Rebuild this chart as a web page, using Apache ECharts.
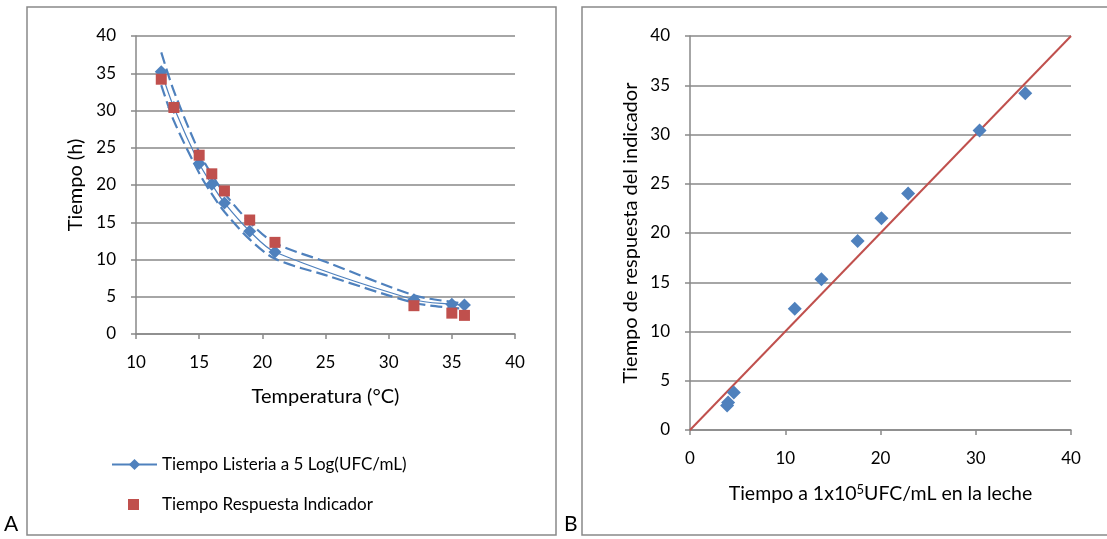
<!DOCTYPE html>
<html>
<head>
<meta charset="utf-8">
<script src="https://cdn.jsdelivr.net/npm/echarts@6/dist/echarts.min.js"></script>
<style>html,body{margin:0;padding:0;background:#fff}#c{width:1107px;height:539px}</style>
</head>
<body>
<div id="c"></div>
<script>
// Panel A data
const temperature = [12, 13, 15, 16, 17, 19, 21, 32, 35, 36];
const listeriaTime = [35.2, 30.4, 22.9, 20.1, 17.6, 13.8, 11.0, 4.6, 4.0, 3.9];
const indicatorTime = [34.2, 30.4, 24.0, 21.5, 19.2, 15.3, 12.3, 3.8, 2.8, 2.5];
// Confidence band (dashed)
const bandTemp = [12, 13, 15, 16, 17, 19, 21, 25, 32, 35, 36];
const bandUpper = [37.8, 32.6, 24.4, 21.4, 18.9, 15.0, 12.2, 9.7, 5.2, 4.3, 4.1];
const bandLower = [33.4, 28.6, 21.6, 18.8, 16.4, 12.7, 10.1, 7.9, 4.2, 3.5, 3.4];
// Panel B identity line
const identityLine = [0, 40];

const legendNames = ['Tiempo Listeria a 5 Log(UFC/mL)', 'Tiempo Respuesta Indicador'];

const BLUE = '#4F81BD', RED = '#C0504D', GRID = '#898989';
const FONT = 'Lato';
const TICK_FS = 17, TITLE_FS = 20;

function pairs(xs, ys) { return xs.map((x, i) => [x, ys[i]]); }

function valAxis(gridIndex, min, max, interval, name, nameGap, isY) {
  return {
    type: 'value', gridIndex, min, max, interval,
    name, nameLocation: 'middle', nameGap,
    nameTextStyle: { fontFamily: FONT, fontSize: TITLE_FS, color: '#000' },
    axisLine: { show: true, lineStyle: { color: GRID, width: 1.5 } },
    axisTick: { show: true, length: 5, inside: false, lineStyle: { color: GRID, width: 1.5 } },
    axisLabel: { fontFamily: FONT, fontSize: TICK_FS, color: '#000', margin: isY ? 20 : 20 },
    splitLine: { show: isY, lineStyle: { color: GRID, width: 1.5 } }
  };
}

const chart = echarts.init(document.getElementById('c'), null, { renderer: 'canvas' });
chart.setOption({
  animation: false,
  backgroundColor: '#fff',
  grid: [
    { left: 136, top: 36, width: 379, height: 298 },
    { left: 690, top: 36, width: 381, height: 394 }
  ],
  xAxis: [
    valAxis(0, 10, 40, 5, 'Temperatura (°C)', 53, false),
    Object.assign(valAxis(1, 0, 40, 10, '{a|Tiempo a 1x10}{s|5}{a|UFC/mL en la leche}', 53, false), {
      nameTextStyle: {
        fontFamily: FONT, fontSize: 19.5, color: '#000',
        rich: {
          a: { fontFamily: FONT, fontSize: 19.5, color: '#000' },
          s: { fontFamily: FONT, fontSize: 13, color: '#000', verticalAlign: 'top', padding: [0, 0, 9, 0] }
        }
      }
    })
  ],
  yAxis: [
    valAxis(0, 0, 40, 5, 'Tiempo (h)', 50, true),
    valAxis(1, 0, 40, 5, 'Tiempo de respuesta del indicador', 49, true)
  ],
  legend: [
    {
      data: [legendNames[0]],
      left: 106, top: 451,
      itemWidth: 45, itemHeight: 14,
      textStyle: { fontFamily: FONT, fontSize: 17, color: '#000' }
    },
    {
      data: [{ name: legendNames[1], icon: 'rect' }],
      left: 123, top: 491,
      itemWidth: 11, itemHeight: 11,
      textStyle: { fontFamily: FONT, fontSize: 17, color: '#000', padding: [0, 0, 0, 18] }
    }
  ],
  series: [
    {
      name: legendNames[0], type: 'line', xAxisIndex: 0, yAxisIndex: 0,
      data: pairs(temperature, listeriaTime), smooth: 0.3,
      symbol: 'diamond', symbolSize: 13,
      lineStyle: { color: BLUE, width: 1.2 }, itemStyle: { color: BLUE, opacity: 1 }, z: 3
    },
    {
      name: legendNames[1], type: 'scatter', xAxisIndex: 0, yAxisIndex: 0,
      data: pairs(temperature, indicatorTime),
      symbol: 'rect', symbolSize: 11, itemStyle: { color: RED, opacity: 1 }, z: 4
    },
    {
      name: 'upper', type: 'line', xAxisIndex: 0, yAxisIndex: 0,
      data: pairs(bandTemp, bandUpper), smooth: 0.3, symbol: 'none',
      lineStyle: { color: BLUE, width: 2.2, type: [12, 5] }, z: 2
    },
    {
      name: 'lower', type: 'line', xAxisIndex: 0, yAxisIndex: 0,
      data: pairs(bandTemp, bandLower), smooth: 0.3, symbol: 'none',
      lineStyle: { color: BLUE, width: 2.2, type: [12, 5] }, z: 2
    },
    {
      name: 'identity', type: 'line', xAxisIndex: 1, yAxisIndex: 1,
      data: pairs(identityLine, identityLine), symbol: 'none',
      lineStyle: { color: RED, width: 2 }, z: 2
    },
    {
      name: 'B', type: 'scatter', xAxisIndex: 1, yAxisIndex: 1,
      data: pairs(listeriaTime, indicatorTime),
      symbol: 'diamond', symbolSize: 14, itemStyle: { color: BLUE, opacity: 1 }, z: 3
    }
  ],
  graphic: [
    { type: 'rect', shape: { x: 27, y: 7, width: 529, height: 528 },
      style: { fill: 'none', stroke: GRID, lineWidth: 1.5 }, silent: true },
    { type: 'rect', shape: { x: 582, y: 7, width: 600, height: 528 },
      style: { fill: 'none', stroke: GRID, lineWidth: 1.5 }, silent: true },
    { type: 'text', left: 4, top: 514, style: { text: 'A', font: '21px Lato', fill: '#000' } },
    { type: 'text', left: 564, top: 514, style: { text: 'B', font: '21px Lato', fill: '#000' } }
  ]
});
</script>
</body>
</html>
